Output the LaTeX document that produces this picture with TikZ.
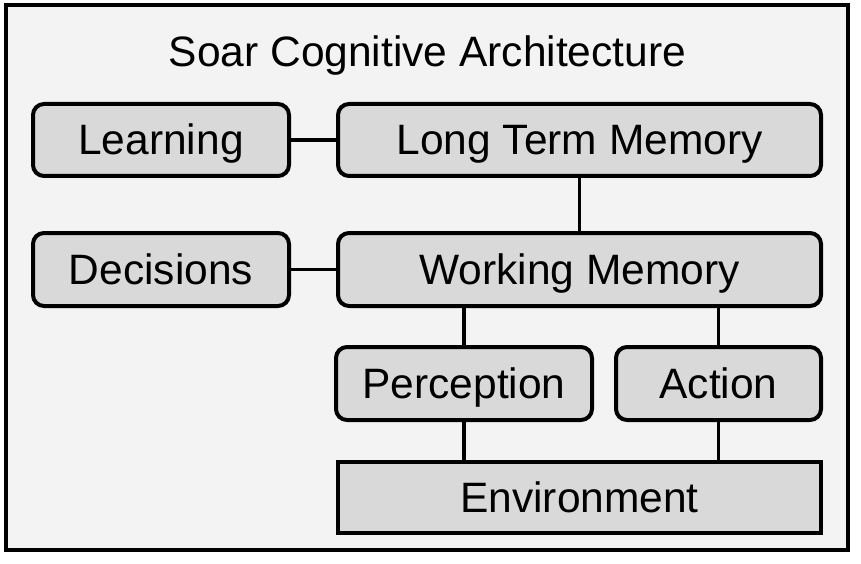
\documentclass[tikz,border=0pt]{standalone}
\usepackage{fontspec}
\setmainfont{Liberation Sans}
\definecolor{framegray}{HTML}{F3F3F3}
\definecolor{boxgray}{HTML}{D9D9D9}
\begin{document}
\begin{tikzpicture}[x=1pt,y=-1pt,
  unit/.style={draw=black, fill=boxgray, line width=4pt, rounded corners=11pt,
    inner sep=0pt, text height=30pt, text depth=0pt,
    font=\fontsize{42.5}{50}\selectfont},
  link/.style={line width=3.5pt}]
\useasboundingbox (0,0) rectangle (861,564);
\draw [fill=framegray, line width=4.5pt] (6,5) rectangle (848,550);
\node [anchor=base, font=\fontsize{42.5}{50}\selectfont] (title) at (427.5,67) {Soar Cognitive Architecture};
\node [unit, minimum width=256pt, minimum height=72pt] (learning) at (161,140) {Learning};
\node [unit, minimum width=483pt, minimum height=72pt] (ltm) at (579.5,140) {Long Term Memory};
\node [unit, minimum width=256pt, minimum height=73pt] (decisions) at (161,269.5) {Decisions};
\node [unit, minimum width=483pt, minimum height=73pt] (wm) at (579.5,269.5) {Working Memory};
\node [unit, minimum width=256pt, minimum height=73pt] (perception) at (464,383.5) {Perception};
\node [unit, minimum width=205pt, minimum height=73pt] (action) at (718.5,383.5) {Action};
\node [unit, rounded corners=0pt, minimum width=483pt, minimum height=71pt] (env) at (579.5,497.5) {Environment};
\draw [link] (learning.east) -- (ltm.west);
\draw [link] (ltm.south) -- (wm.north);
\draw [link] (decisions.east) -- (wm.west);
\draw [link] (perception.north) -- (perception.north |- wm.south);
\draw [link] (action.north) -- (action.north |- wm.south);
\draw [link] (perception.south) -- (perception.south |- env.north);
\draw [link] (action.south) -- (action.south |- env.north);
\end{tikzpicture}
\end{document}
